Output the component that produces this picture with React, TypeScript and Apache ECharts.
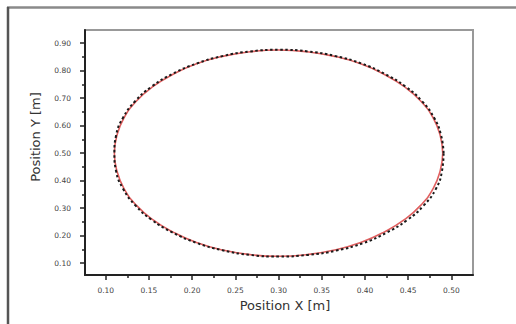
import React, { useEffect, useRef } from "react";
import * as echarts from "echarts";

// Reference trajectory (red) — points read along the ellipse
const refX = [0.490, 0.487, 0.479, 0.465, 0.446, 0.422, 0.395, 0.365, 0.333, 0.300, 0.267, 0.235, 0.205, 0.178, 0.154, 0.135, 0.121, 0.113, 0.110, 0.113, 0.121, 0.135, 0.154, 0.178, 0.205, 0.235, 0.267, 0.300, 0.333, 0.365, 0.395, 0.422, 0.446, 0.465, 0.479, 0.487, 0.490];
const refY = [0.500, 0.565, 0.628, 0.688, 0.741, 0.787, 0.825, 0.852, 0.869, 0.875, 0.869, 0.852, 0.825, 0.787, 0.741, 0.688, 0.628, 0.565, 0.500, 0.435, 0.372, 0.312, 0.259, 0.213, 0.175, 0.148, 0.131, 0.125, 0.131, 0.148, 0.175, 0.213, 0.259, 0.312, 0.372, 0.435, 0.500];

// Measured trajectory (black dashed)
const measX = [0.491, 0.488, 0.480, 0.466, 0.447, 0.423, 0.396, 0.366, 0.334, 0.301, 0.267, 0.235, 0.205, 0.177, 0.153, 0.134, 0.120, 0.112, 0.110, 0.112, 0.120, 0.134, 0.153, 0.177, 0.205, 0.235, 0.267, 0.300, 0.334, 0.367, 0.398, 0.425, 0.449, 0.468, 0.482, 0.489, 0.491];
const measY = [0.500, 0.566, 0.629, 0.689, 0.742, 0.788, 0.826, 0.853, 0.870, 0.876, 0.870, 0.853, 0.826, 0.788, 0.742, 0.689, 0.629, 0.565, 0.500, 0.434, 0.371, 0.311, 0.258, 0.212, 0.174, 0.147, 0.130, 0.124, 0.130, 0.146, 0.173, 0.211, 0.257, 0.310, 0.370, 0.433, 0.500];

const xTicks = [0.10, 0.15, 0.20, 0.25, 0.30, 0.35, 0.40, 0.45, 0.50];
const xMinor = [0.125, 0.175, 0.225, 0.275, 0.325, 0.375, 0.425, 0.475];
const yTicks = [0.10, 0.20, 0.30, 0.40, 0.50, 0.60, 0.70, 0.80, 0.90];
const yMinor = [0.15, 0.25, 0.35, 0.45, 0.55, 0.65, 0.75, 0.85];

const X_MIN = 0.076, X_MAX = 0.525, Y_MIN = 0.057, Y_MAX = 0.948;
const FONT = "DejaVu Sans";

export default function App() {
  const ref = useRef<HTMLDivElement>(null);
  useEffect(() => {
    document.body.style.margin = "0";
    const chart = echarts.init(ref.current!, null, { renderer: "svg" });
    const fmt = (v: number) => v.toFixed(2);
    const mainAxisCommon = {
      type: "value",
      splitLine: { show: false },
      axisLine: { show: true, onZero: false, lineStyle: { color: "#222", width: 2 } },
    };
    chart.setOption({
      animation: false,
      backgroundColor: "#fff",
      grid: { left: 85, top: 30, right: 43, bottom: 49, show: true, borderColor: "#999", borderWidth: 2 },
      xAxis: [
        {
          ...mainAxisCommon,
          min: X_MIN, max: X_MAX,
          axisTick: { show: true, customValues: xTicks, length: 5, lineStyle: { color: "#222", width: 1.5 } },
          axisLabel: { customValues: xTicks, formatter: fmt, fontSize: 7.5, color: "#444", margin: 11, fontFamily: FONT },
        },
        {
          type: "value", position: "bottom", min: X_MIN, max: X_MAX,
          splitLine: { show: false },
          axisLine: { show: false },
          axisTick: { show: true, customValues: xMinor, length: 3, lineStyle: { color: "#222", width: 1.5 } },
          axisLabel: { show: false },
        },
      ],
      yAxis: [
        {
          ...mainAxisCommon,
          min: Y_MIN, max: Y_MAX,
          axisTick: { show: true, customValues: yTicks, length: 5, lineStyle: { color: "#222", width: 1.5 } },
          axisLabel: { customValues: yTicks, formatter: fmt, fontSize: 7.5, color: "#444", margin: 14, fontFamily: FONT },
        },
        {
          type: "value", position: "left", min: Y_MIN, max: Y_MAX,
          splitLine: { show: false },
          axisLine: { show: false },
          axisTick: { show: true, customValues: yMinor, length: 3, lineStyle: { color: "#222", width: 1.5 } },
          axisLabel: { show: false },
        },
      ],
      graphic: [
        { type: "line", shape: { x1: 7, y1: 7.5, x2: 516, y2: 7.5 }, style: { stroke: "#8a8a8a", lineWidth: 2.5 } },
        { type: "line", shape: { x1: 8, y1: 7, x2: 8, y2: 324 }, style: { stroke: "#555", lineWidth: 2.5 } },
        {
          type: "text", x: 285, y: 305,
          style: { text: "Position X [m]", fontSize: 13, fill: "#333", fontFamily: FONT, align: "center", verticalAlign: "middle" },
        },
        {
          type: "text", x: 35, y: 137, rotation: Math.PI / 2,
          style: { text: "Position Y [m]", fontSize: 13, fill: "#333", fontFamily: FONT, align: "center", verticalAlign: "middle" },
        },
      ],
      series: [
        {
          type: "line", name: "Reference", xAxisIndex: 0, yAxisIndex: 0,
          data: refX.map((x, i) => [x, refY[i]]),
          smooth: true, showSymbol: false,
          lineStyle: { color: "#e06060", width: 1.6 },
        },
        {
          type: "line", name: "Measured", xAxisIndex: 0, yAxisIndex: 0,
          data: measX.map((x, i) => [x, measY[i]]),
          smooth: true, showSymbol: false,
          lineStyle: { color: "#1a1a1a", width: 2, type: [2.5, 2.5] },
        },
      ],
    });
    return () => chart.dispose();
  }, []);
  return <div ref={ref} style={{ width: 516, height: 324 }} />;
}
